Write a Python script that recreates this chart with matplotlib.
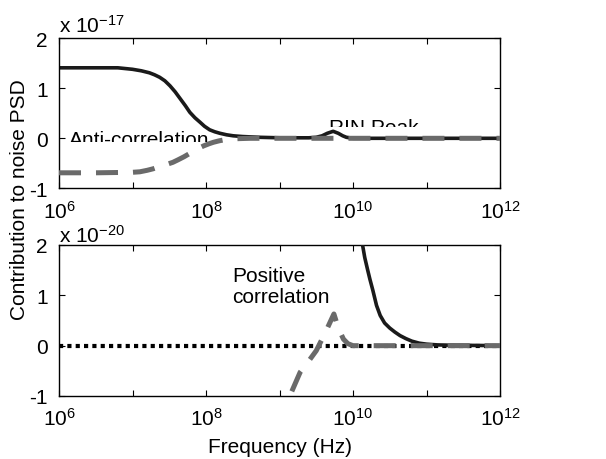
import numpy as np
import matplotlib
matplotlib.use("Agg")
import matplotlib.pyplot as plt
from matplotlib.transforms import Bbox, TransformedBbox
from matplotlib.ticker import FixedLocator, FixedFormatter, NullLocator

plt.rcParams['font.family'] = ['Liberation Sans', 'DejaVu Sans']
plt.rcParams['mathtext.fontset'] = 'custom'
plt.rcParams['mathtext.rm'] = 'Liberation Sans'
plt.rcParams['mathtext.it'] = 'Liberation Sans'
plt.rcParams['mathtext.default'] = 'regular'

# ---------------- data (log10 frequency, values) ----------------
# Top panel, units of 1e-17
top_logf_solid = [6.0, 6.5, 6.8, 7.0, 7.12, 7.23, 7.3, 7.37, 7.44, 7.51, 7.58, 7.65, 7.72, 7.78,
                  7.85, 7.92, 7.98, 8.05, 8.12, 8.19, 8.28, 8.37, 8.5, 8.73, 9.0, 9.4, 9.5,
                  9.58, 9.65, 9.73, 9.8, 9.86, 9.91, 10.0, 11.0, 12.0]
top_solid = [1.41, 1.41, 1.41, 1.38, 1.35, 1.31, 1.27, 1.22, 1.15, 1.05, 0.93, 0.79, 0.65, 0.52,
             0.41, 0.32, 0.24, 0.17, 0.13, 0.10, 0.07, 0.05, 0.035, 0.02, 0.01, 0.01, 0.02,
             0.05, 0.10, 0.14, 0.10, 0.05, 0.02, 0.0, 0.0, 0.0]
top_logf_dash = [6.0, 6.5, 7.0, 7.1, 7.2, 7.28, 7.36, 7.45, 7.55, 7.62, 7.7, 7.77, 7.83, 7.9,
                 7.97, 8.04, 8.1, 8.18, 8.25, 8.37, 8.6, 9.0, 10.0, 11.0, 12.0]
top_dash = [-0.69, -0.69, -0.68, -0.67, -0.64, -0.61, -0.57, -0.53, -0.48, -0.43, -0.37, -0.31,
            -0.25, -0.2, -0.15, -0.11, -0.08, -0.05, -0.03, -0.01, 0.0, 0.0, 0.0, 0.0, 0.0]

# Bottom panel, units of 1e-20
bot_logf_solid = [10.0, 10.1, 10.13, 10.16, 10.2, 10.23, 10.27, 10.32, 10.37, 10.43, 10.5,
                  10.57, 10.64, 10.72, 10.8, 10.9, 11.0, 11.15, 11.3, 12.0]
bot_solid = [3.6, 2.5, 2.0, 1.75, 1.5, 1.32, 1.1, 0.8, 0.6, 0.45, 0.35, 0.27, 0.2, 0.14,
             0.09, 0.05, 0.03, 0.015, 0.01, 0.0]
bot_logf_dash = [9.0, 9.14, 9.28, 9.4, 9.5, 9.62, 9.74, 9.8, 9.87, 9.93, 10.0, 10.5, 11.0, 12.0]
bot_dash = [-1.6, -1.0, -0.53, -0.3, -0.1, 0.25, 0.63, 0.35, 0.13, 0.04, 0.0, 0.0, 0.0, 0.0]
bot_logf_dot = [6.0, 12.0]
bot_dot = [0.0, 0.0]

yticks = [-1, 0, 1, 2]
xtick_decades = [6, 7, 8, 9, 10, 11, 12]
xlabel_decades = [6, 8, 10, 12]

GRAY = '#6a6a6a'
BLACK = '#1a1a1a'
FS = 15

fig = plt.figure(figsize=(6.06, 4.60), dpi=100)
W, H = 606.0, 460.0
ax1 = fig.add_axes([59 / W, 1 - 189.3 / H, 441 / W, 150 / H])
ax2 = fig.add_axes([59 / W, 1 - 397 / H, 441 / W, 151 / H])

def style(ax):
    ax.set_xscale('log')
    ax.set_xlim(1e6, 1e12)
    ax.set_ylim(-1, 2)
    ax.xaxis.set_major_locator(FixedLocator([10.0 ** d for d in xtick_decades]))
    labels = [(r'$10^{%d}$' % d) if d in xlabel_decades else '' for d in xtick_decades]
    ax.xaxis.set_major_formatter(FixedFormatter(labels))
    ax.xaxis.set_minor_locator(NullLocator())
    ax.set_yticks(yticks)
    ax.set_yticklabels([str(v) for v in yticks])
    ax.tick_params(direction='in', length=4, width=0.8, top=True, right=True,
                   labelsize=FS)
    ax.tick_params(axis='y', pad=8)
    ax.tick_params(axis='x', pad=8)
    for s in ax.spines.values():
        s.set_linewidth(1.0)

style(ax1)
style(ax2)

lw_solid = 2.6
lw_dash = 3.6
dash_pat = (4.4, 3.0)

ax1.plot([10.0 ** v for v in top_logf_solid], top_solid, color=BLACK, lw=lw_solid, zorder=2)
ax1.plot([10.0 ** v for v in top_logf_dash], top_dash, color=GRAY, lw=lw_dash,
         dashes=dash_pat, dash_capstyle='butt', zorder=3)

ax2.plot([10.0 ** v for v in bot_logf_dot], bot_dot, color='black', lw=3.0,
         dashes=(1, 1), dash_capstyle='butt', zorder=2)
ax2.plot([10.0 ** v for v in bot_logf_solid], bot_solid, color=BLACK, lw=lw_solid, zorder=3)
ax2.plot([10.0 ** v for v in bot_logf_dash], bot_dash, color=GRAY, lw=lw_dash,
         dashes=dash_pat, dash_capstyle='butt', zorder=4)

# exponent labels
fig.text(59 / W, 1 - 33 / H, r'x 10$^{-17}$', fontsize=FS, ha='left', va='baseline')
fig.text(59 / W, 1 - 243 / H, r'x 10$^{-20}$', fontsize=FS, ha='left', va='baseline')

# annotations (bottom of glyphs is hidden in the original)
t1 = fig.text(69 / W, 1 - 146 / H, 'Anti-correlation', fontsize=FS, ha='left', va='baseline')
t1.set_clip_box(TransformedBbox(Bbox([[0, 1 - 142.5 / H], [1, 1]]), fig.transFigure))
t2 = fig.text(329 / W, 1 - 134 / H, 'RIN Peak', fontsize=FS, ha='left', va='baseline')
t2.set_clip_box(TransformedBbox(Bbox([[0, 1 - 128 / H], [1, 1]]), fig.transFigure))
fig.text(232 / W, 1 - 303 / H, 'Positive\ncorrelation', fontsize=FS, ha='left',
         va='baseline', linespacing=1.1)

fig.text(20 / W, 1 - 200 / H, 'Contribution to noise PSD', fontsize=FS, rotation=90,
         ha='center', va='center')
fig.text(280 / W, 1 - 448 / H, 'Frequency (Hz)', fontsize=FS, ha='center', va='center')

fig.savefig('out.png', dpi=100)
